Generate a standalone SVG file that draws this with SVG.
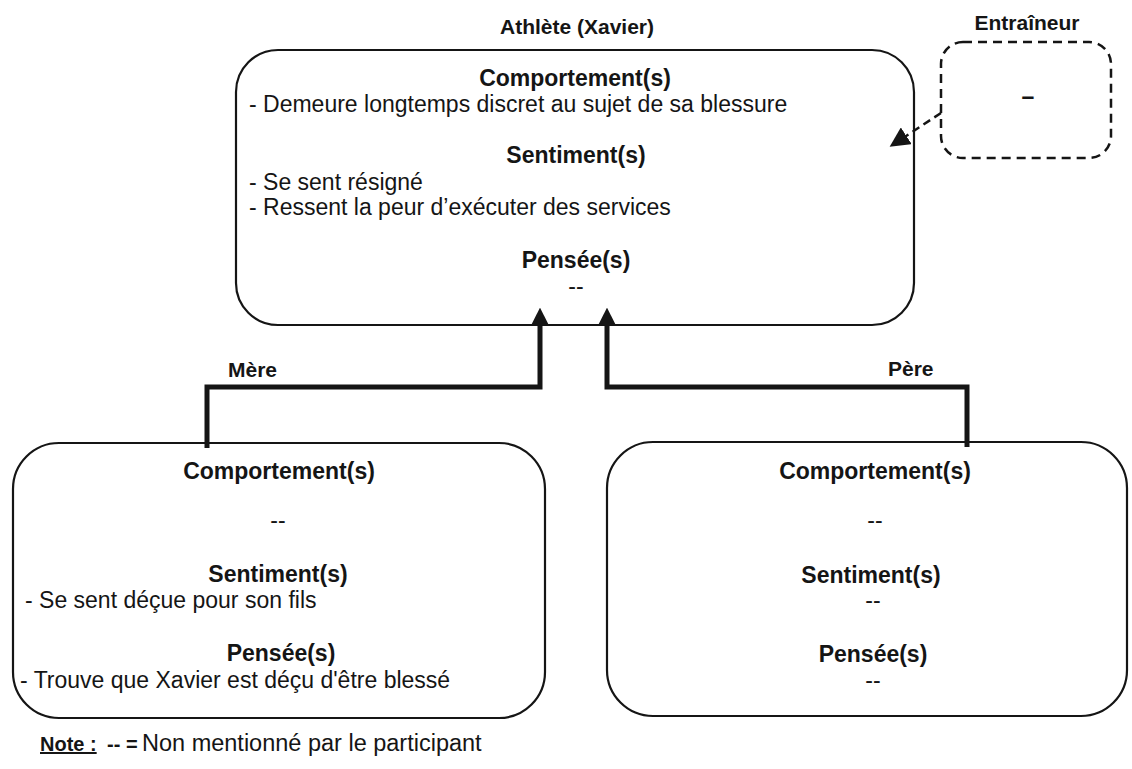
<svg xmlns="http://www.w3.org/2000/svg" width="1132" height="769" viewBox="0 0 1132 769">
  <style>
    text { font-family: "Liberation Sans", Arial, Helvetica, sans-serif; fill: #151515; }
    .h { font-size: 23px; font-weight: bold; text-anchor: middle; }
    .t { font-size: 23px; }
    .c { font-size: 23px; text-anchor: middle; }
    .lab { font-size: 21px; font-weight: bold; }
    .box { fill: none; stroke: #151515; stroke-width: 2.2; }
    .dbox { fill: none; stroke: #151515; stroke-width: 2.5; stroke-dasharray: 9 6; }
    .link { fill: none; stroke: #151515; stroke-width: 5; stroke-linejoin: miter; }
    .dlink { fill: none; stroke: #151515; stroke-width: 2.5; stroke-dasharray: 8 5; }
  </style>
  <defs>
    <marker id="head" viewBox="0 0 10 10" refX="2" refY="5" markerWidth="3.6" markerHeight="3.6" orient="auto" markerUnits="strokeWidth">
      <path d="M0,0 L10,5 L0,10 z" fill="#151515"/>
    </marker>
    <marker id="headThin" viewBox="0 0 10 10" refX="2" refY="5" markerWidth="8" markerHeight="8" orient="auto" markerUnits="strokeWidth">
      <path d="M0,0 L10,5 L0,10 z" fill="#151515"/>
    </marker>
  </defs>

  <!-- Athlete -->
  <g id="athlete">
    <text class="lab" x="577" y="34" text-anchor="middle">Athlète (Xavier)</text>
    <rect class="box" x="236" y="50" width="678" height="275" rx="42" ry="42"/>
    <text class="h" x="575" y="86">Comportement(s)</text>
    <text class="t" x="249" y="112">- Demeure longtemps discret au sujet de sa blessure</text>
    <text class="h" x="576" y="163">Sentiment(s)</text>
    <text class="t" x="249" y="190">- Se sent résigné</text>
    <text class="t" x="249" y="215">- Ressent la peur d’exécuter des services</text>
    <text class="h" x="576" y="268">Pensée(s)</text>
    <text class="c" x="576" y="294">--</text>
  </g>

  <!-- Coach -->
  <g id="entraineur">
    <text class="lab" x="1027" y="30" text-anchor="middle">Entraîneur</text>
    <rect class="dbox" x="941" y="42" width="170" height="116" rx="22" ry="22"/>
    <text class="c" x="1028" y="104" font-weight="bold">–</text>
  </g>

  <!-- Mother -->
  <g id="mere">
    <rect class="box" x="13" y="443" width="532" height="275" rx="46" ry="46"/>
    <text class="h" x="279" y="479">Comportement(s)</text>
    <text class="c" x="278" y="528">--</text>
    <text class="h" x="278" y="582">Sentiment(s)</text>
    <text class="t" x="25" y="608">- Se sent déçue pour son fils</text>
    <text class="h" x="281" y="661">Pensée(s)</text>
    <text class="t" x="20" y="688">- Trouve que Xavier est déçu d'être blessé</text>
  </g>

  <!-- Father -->
  <g id="pere">
    <rect class="box" x="607" y="442" width="520" height="274" rx="46" ry="46"/>
    <text class="h" x="875" y="479">Comportement(s)</text>
    <text class="c" x="875" y="528">--</text>
    <text class="h" x="871" y="583">Sentiment(s)</text>
    <text class="c" x="873" y="608">--</text>
    <text class="h" x="873" y="662">Pensée(s)</text>
    <text class="c" x="873" y="688">--</text>
  </g>

  <!-- Connectors -->
  <g id="connectors">
    <path class="link" d="M207,448 V387 H540 V322" marker-end="url(#head)"/>
    <path class="link" d="M967,447 V387 H607 V322" marker-end="url(#head)"/>
    <path class="dlink" d="M941,113 L903,138" marker-end="url(#headThin)"/>
    <text class="lab" x="228" y="377">Mère</text>
    <text class="lab" x="888" y="376">Père</text>
  </g>

  <!-- Legend -->
  <g id="note">
    <text x="40" y="751" style="font-size:20px;font-weight:bold;text-decoration:underline">Note :</text>
    <text x="107" y="751" style="font-size:20px;font-weight:bold">-- =</text>
    <text x="142" y="751" style="font-size:23.5px">Non mentionné par le participant</text>
  </g>
</svg>
